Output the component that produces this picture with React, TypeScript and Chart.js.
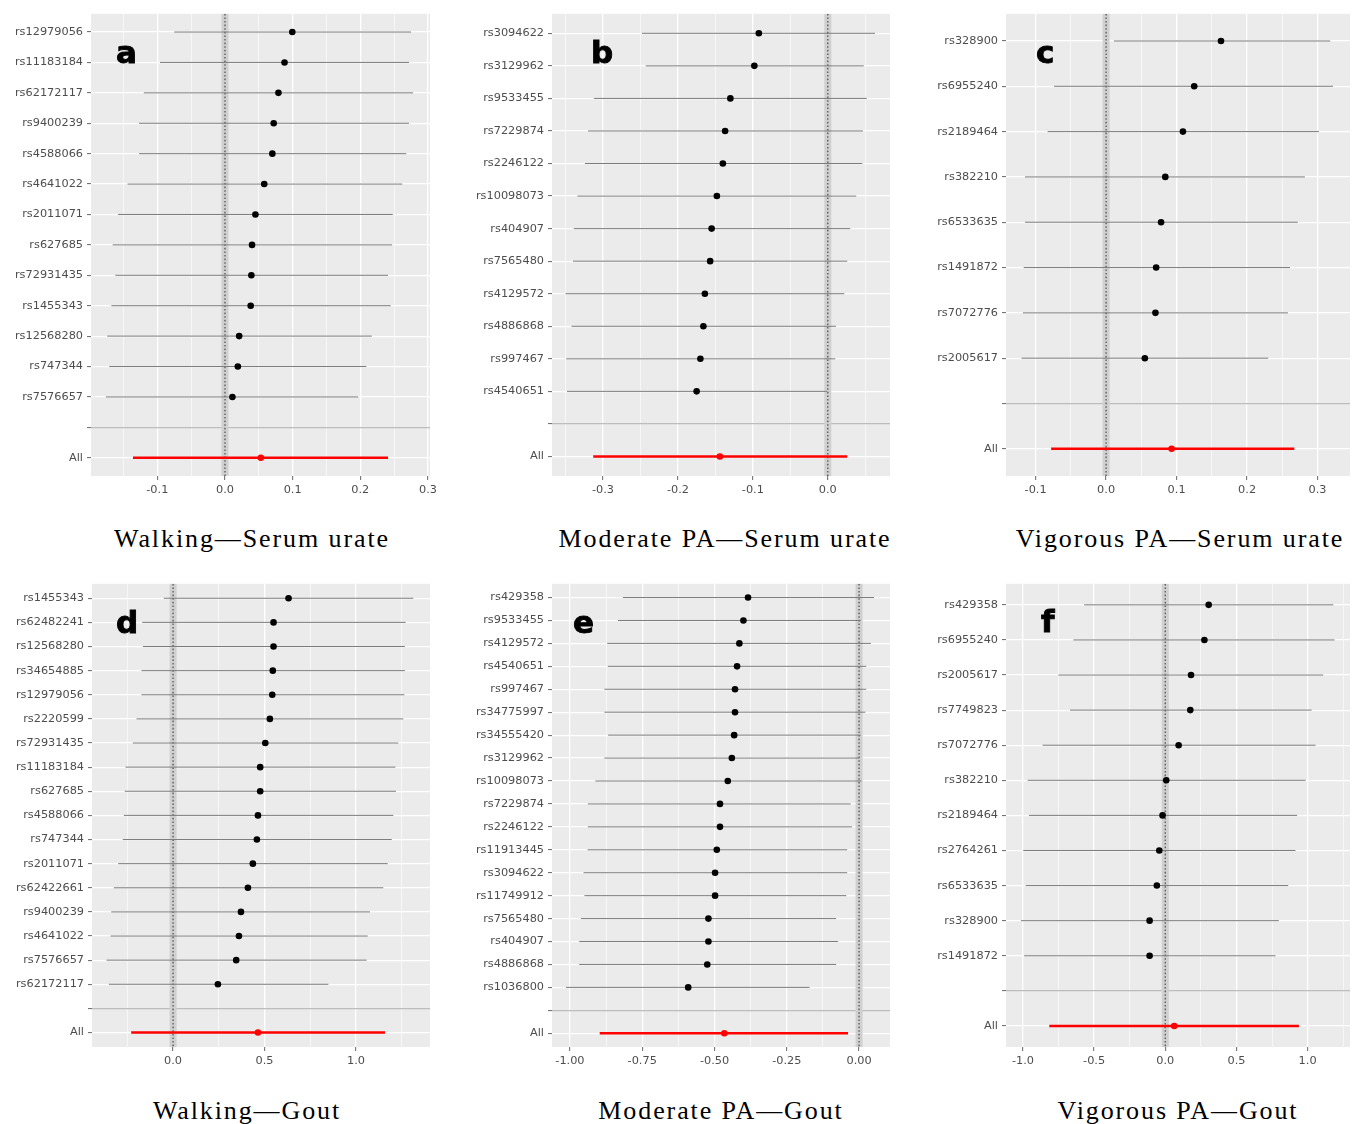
import React, { useEffect, useRef } from 'react';
import { Chart, registerables } from 'chart.js';

Chart.register(...registerables);

// ---------- Data ----------
// Panel a: Walking — Serum urate
const labelsA = ['rs12979056', 'rs11183184', 'rs62172117', 'rs9400239', 'rs4588066', 'rs4641022', 'rs2011071', 'rs627685', 'rs72931435', 'rs1455343', 'rs12568280', 'rs747344', 'rs7576657'];
const estA = [0.0995, 0.088, 0.079, 0.072, 0.070, 0.058, 0.045, 0.040, 0.039, 0.038, 0.021, 0.019, 0.011];
const loA = [-0.075, -0.096, -0.120, -0.127, -0.127, -0.144, -0.158, -0.166, -0.162, -0.168, -0.174, -0.171, -0.176];
const hiA = [0.275, 0.272, 0.278, 0.272, 0.268, 0.262, 0.248, 0.247, 0.241, 0.245, 0.217, 0.209, 0.197];
const allA = [0.053, -0.136, 0.241]; // estimate, lower, upper
const xRangeA = [-0.198, 0.303];

// Panel b: Moderate PA — Serum urate
const labelsB = ['rs3094622', 'rs3129962', 'rs9533455', 'rs7229874', 'rs2246122', 'rs10098073', 'rs404907', 'rs7565480', 'rs4129572', 'rs4886868', 'rs997467', 'rs4540651'];
const estB = [-0.092, -0.098, -0.130, -0.137, -0.140, -0.148, -0.155, -0.157, -0.164, -0.166, -0.170, -0.175];
const loB = [-0.248, -0.243, -0.312, -0.320, -0.324, -0.334, -0.339, -0.340, -0.350, -0.342, -0.349, -0.348];
const hiB = [0.063, 0.048, 0.052, 0.047, 0.046, 0.038, 0.030, 0.026, 0.022, 0.011, 0.010, -0.001];
const allB = [-0.144, -0.313, 0.026];
const xRangeB = [-0.368, 0.083];

// Panel c: Vigorous PA — Serum urate
const labelsC = ['rs328900', 'rs6955240', 'rs2189464', 'rs382210', 'rs6533635', 'rs1491872', 'rs7072776', 'rs2005617'];
const estC = [0.163, 0.125, 0.109, 0.084, 0.078, 0.071, 0.070, 0.055];
const loC = [0.011, -0.074, -0.083, -0.115, -0.115, -0.117, -0.118, -0.120];
const hiC = [0.318, 0.322, 0.302, 0.282, 0.272, 0.261, 0.258, 0.230];
const allC = [0.093, -0.078, 0.267];
const xRangeC = [-0.142, 0.346];

// Panel d: Walking — Gout
const labelsD = ['rs1455343', 'rs62482241', 'rs12568280', 'rs34654885', 'rs12979056', 'rs2220599', 'rs72931435', 'rs11183184', 'rs627685', 'rs4588066', 'rs747344', 'rs2011071', 'rs62422661', 'rs9400239', 'rs4641022', 'rs7576657', 'rs62172117'];
const estD = [0.631, 0.549, 0.549, 0.545, 0.542, 0.529, 0.504, 0.476, 0.476, 0.464, 0.458, 0.436, 0.409, 0.371, 0.360, 0.345, 0.245];
const loD = [-0.051, -0.169, -0.165, -0.173, -0.173, -0.200, -0.220, -0.260, -0.264, -0.269, -0.275, -0.300, -0.324, -0.338, -0.342, -0.364, -0.351];
const hiD = [1.313, 1.271, 1.267, 1.267, 1.264, 1.258, 1.231, 1.215, 1.218, 1.204, 1.195, 1.173, 1.149, 1.076, 1.064, 1.058, 0.849];
const allD = [0.464, -0.229, 1.158];
const xRangeD = [-0.443, 1.404];

// Panel e: Moderate PA — Gout
const labelsE = ['rs429358', 'rs9533455', 'rs4129572', 'rs4540651', 'rs997467', 'rs34775997', 'rs34555420', 'rs3129962', 'rs10098073', 'rs7229874', 'rs2246122', 'rs11913445', 'rs3094622', 'rs11749912', 'rs7565480', 'rs404907', 'rs4886868', 'rs1036800'];
const estE = [-0.384, -0.400, -0.414, -0.422, -0.429, -0.429, -0.432, -0.440, -0.454, -0.481, -0.481, -0.492, -0.498, -0.498, -0.521, -0.521, -0.525, -0.591];
const loE = [-0.817, -0.834, -0.871, -0.869, -0.881, -0.881, -0.868, -0.881, -0.912, -0.938, -0.938, -0.939, -0.953, -0.950, -0.962, -0.968, -0.968, -1.014];
const hiE = [0.052, 0.006, 0.041, 0.025, 0.025, 0.022, 0.006, 0.000, 0.008, -0.029, -0.024, -0.041, -0.041, -0.044, -0.079, -0.073, -0.079, -0.171];
const allE = [-0.466, -0.897, -0.038];
const xRangeE = [-1.062, 0.107];

// Panel f: Vigorous PA — Gout
const labelsF = ['rs429358', 'rs6955240', 'rs2005617', 'rs7749823', 'rs7072776', 'rs382210', 'rs2189464', 'rs2764261', 'rs6533635', 'rs328900', 'rs1491872'];
const estF = [0.305, 0.275, 0.181, 0.176, 0.094, 0.007, -0.019, -0.042, -0.059, -0.110, -0.110];
const loF = [-0.570, -0.646, -0.751, -0.669, -0.862, -0.967, -0.958, -0.998, -0.981, -1.014, -0.991];
const hiF = [1.181, 1.190, 1.110, 1.028, 1.056, 0.986, 0.927, 0.915, 0.864, 0.798, 0.775];
const allF = [0.063, -0.815, 0.939];
const xRangeF = [-1.119, 1.298];

// ---------- Layout / style ----------
type Box = { left: number; top: number; w: number; h: number };
type PanelCfg = {
  letter: string;
  caption: string;
  labels: string[];
  est: number[];
  lo: number[];
  hi: number[];
  all: number[];
  xRange: number[];
  major: number;
  minor: number;
  decimals: number;
  box: Box;
  letterPos: { left: number; top: number };
  captionPos: { cx: number; top: number };
};

const Y_AXIS_W = 90;
const X_AXIS_H = 30;
const PAD_TOP = 10;
const PAD_RIGHT = 24;
const TICK_FONT = { family: '"DejaVu Sans", "Liberation Sans", sans-serif', size: 11.3 };
const TEXT_GREY = '#4D4D4D';

const panels: PanelCfg[] = [
  { letter: 'a', caption: 'Walking\u2014Serum urate', labels: labelsA, est: estA, lo: loA, hi: hiA, all: allA, xRange: xRangeA, major: 0.1, minor: 0.05, decimals: 1,
    box: { left: 91, top: 13, w: 339, h: 463 }, letterPos: { left: 116, top: 37 }, captionPos: { cx: 252, top: 526 } },
  { letter: 'b', caption: 'Moderate PA\u2014Serum urate', labels: labelsB, est: estB, lo: loB, hi: hiB, all: allB, xRange: xRangeB, major: 0.1, minor: 0.05, decimals: 1,
    box: { left: 552, top: 13, w: 338, h: 463 }, letterPos: { left: 591, top: 37 }, captionPos: { cx: 725, top: 526 } },
  { letter: 'c', caption: 'Vigorous PA\u2014Serum urate', labels: labelsC, est: estC, lo: loC, hi: hiC, all: allC, xRange: xRangeC, major: 0.1, minor: 0.05, decimals: 1,
    box: { left: 1006, top: 13, w: 344, h: 463 }, letterPos: { left: 1036, top: 37 }, captionPos: { cx: 1180, top: 526 } },
  { letter: 'd', caption: 'Walking\u2014Gout', labels: labelsD, est: estD, lo: loD, hi: hiD, all: allD, xRange: xRangeD, major: 0.5, minor: 0.25, decimals: 1,
    box: { left: 92, top: 583, w: 338, h: 464 }, letterPos: { left: 116, top: 607 }, captionPos: { cx: 247, top: 1098 } },
  { letter: 'e', caption: 'Moderate PA\u2014Gout', labels: labelsE, est: estE, lo: loE, hi: hiE, all: allE, xRange: xRangeE, major: 0.25, minor: 0.125, decimals: 2,
    box: { left: 552, top: 583, w: 338, h: 464 }, letterPos: { left: 573, top: 607 }, captionPos: { cx: 721, top: 1098 } },
  { letter: 'f', caption: 'Vigorous PA\u2014Gout', labels: labelsF, est: estF, lo: loF, hi: hiF, all: allF, xRange: xRangeF, major: 0.5, minor: 0.25, decimals: 1,
    box: { left: 1006, top: 583, w: 344, h: 464 }, letterPos: { left: 1041, top: 606 }, captionPos: { cx: 1178, top: 1098 } },
];

const panelBg = {
  id: 'panelBg',
  beforeDraw(chart: any) {
    const { ctx, chartArea } = chart;
    if (!chartArea) return;
    ctx.save();
    ctx.fillStyle = '#EBEBEB';
    ctx.fillRect(chartArea.left, chartArea.top, chartArea.right - chartArea.left, chartArea.bottom - chartArea.top);
    ctx.restore();
  },
};

function ForestPanel({ cfg }: { cfg: PanelCfg }) {
  const ref = useRef<HTMLCanvasElement>(null);

  useEffect(() => {
    if (!ref.current) return;
    const cats = [...cfg.labels, '', 'All'];
    const n = cats.length;
    const sepIdx = cfg.labels.length;
    const allIdx = n - 1;
    const yMin = -0.6;
    const yMax = n - 1 + 0.6;
    const isMajor = (v: number) => Math.abs(v / cfg.major - Math.round(v / cfg.major)) < 1e-6;

    const datasets: any[] = [];
    const zeroLine = [{ x: 0, y: yMin }, { x: 0, y: yMax }];
    datasets.push({ type: 'line', data: zeroLine, borderColor: '#D0D0D0', borderWidth: 7, pointRadius: 0, order: 20 });
    datasets.push({ type: 'line', data: zeroLine, borderColor: '#555555', borderWidth: 1.3, borderDash: [1.6, 2], pointRadius: 0, order: 19 });
    cfg.labels.forEach((_, i) => {
      datasets.push({
        type: 'line',
        data: [{ x: cfg.lo[i], y: i }, { x: cfg.hi[i], y: i }],
        borderColor: '#7C7C7C',
        borderWidth: 1,
        pointRadius: 0,
        order: 10,
      });
    });
    datasets.push({
      type: 'line',
      data: [{ x: cfg.all[1], y: allIdx }, { x: cfg.all[2], y: allIdx }],
      borderColor: '#FF0000',
      borderWidth: 2.6,
      pointRadius: 0,
      order: 5,
    });
    datasets.push({
      type: 'scatter',
      data: cfg.est.map((v, i) => ({ x: v, y: i })),
      backgroundColor: '#000000',
      borderWidth: 0,
      pointRadius: 3.3,
      order: 2,
    });
    datasets.push({
      type: 'scatter',
      data: [{ x: cfg.all[0], y: allIdx }],
      backgroundColor: '#FF0000',
      borderWidth: 0,
      pointRadius: 3.3,
      order: 1,
    });

    const chart = new Chart(ref.current, {
      type: 'scatter',
      data: { datasets },
      options: {
        animation: false,
        responsive: false,
        events: [],
        layout: { padding: { top: PAD_TOP, right: PAD_RIGHT, left: 0, bottom: 0 } },
        plugins: { legend: { display: false }, tooltip: { enabled: false }, title: { display: false } },
        scales: {
          x: {
            type: 'linear',
            min: cfg.xRange[0],
            max: cfg.xRange[1],
            bounds: 'data',
            afterBuildTicks: (scale: any) => {
              const start = Math.ceil(cfg.xRange[0] / cfg.minor - 1e-9);
              const end = Math.floor(cfg.xRange[1] / cfg.minor + 1e-9);
              const ticks = [];
              for (let k = start; k <= end; k++) ticks.push({ value: +(k * cfg.minor).toFixed(6) });
              scale.ticks = ticks;
            },
            afterFit: (scale: any) => {
              scale.height = X_AXIS_H;
            },
            ticks: {
              autoSkip: false,
              maxRotation: 0,
              minRotation: 0,
              color: TEXT_GREY,
              font: TICK_FONT,
              padding: 3,
              callback: (v: any) => (isMajor(Number(v)) ? Number(v).toFixed(cfg.decimals) : ''),
            },
            grid: {
              color: '#FFFFFF',
              lineWidth: (ctx: any) => (ctx.tick && isMajor(ctx.tick.value) ? 1.3 : 0.6),
              tickLength: 4,
              tickColor: (ctx: any) => (ctx.tick && isMajor(ctx.tick.value) ? '#666666' : 'rgba(0,0,0,0)'),
              tickWidth: 1,
            },
            border: { display: false },
          },
          y: {
            type: 'linear',
            reverse: true,
            min: yMin,
            max: yMax,
            bounds: 'data',
            offset: false,
            afterBuildTicks: (scale: any) => {
              scale.ticks = cats.map((_, i) => ({ value: i }));
            },
            afterFit: (scale: any) => {
              scale.width = Y_AXIS_W;
            },
            ticks: {
              autoSkip: false,
              color: TEXT_GREY,
              font: TICK_FONT,
              padding: 4,
              callback: (v: any) => cats[Math.round(Number(v))] ?? '',
            },
            grid: {
              offset: false,
              color: (ctx: any) => (ctx.tick && Math.round(ctx.tick.value) === sepIdx ? '#BDBDBD' : '#FFFFFF'),
              lineWidth: 1.2,
              tickLength: 4,
              tickColor: '#666666',
              tickWidth: 1,
            },
            border: { display: false },
          },
        },
      } as any,
      plugins: [panelBg],
    } as any);

    return () => chart.destroy();
  }, [cfg]);

  const { box } = cfg;
  const cw = Y_AXIS_W + box.w + PAD_RIGHT;
  const ch = PAD_TOP + box.h + X_AXIS_H;

  return (
    <>
      <canvas
        ref={ref}
        width={cw}
        height={ch}
        style={{ position: 'absolute', left: box.left - Y_AXIS_W, top: box.top - PAD_TOP, width: cw, height: ch }}
      />
      <div
        style={{
          position: 'absolute',
          left: cfg.letterPos.left,
          top: cfg.letterPos.top,
          fontFamily: '"DejaVu Sans", sans-serif',
          fontWeight: 'bold',
          fontSize: 31,
          lineHeight: '31px',
          color: '#000',
          WebkitTextStroke: '0.9px #000',
        }}
      >
        {cfg.letter}
      </div>
      <div
        style={{
          position: 'absolute',
          left: cfg.captionPos.cx,
          top: cfg.captionPos.top,
          transform: 'translateX(-50%)',
          fontFamily: '"Liberation Serif", "DejaVu Serif", serif',
          fontSize: 26,
          lineHeight: '26px',
          letterSpacing: '1.9px',
          whiteSpace: 'nowrap',
          color: '#000',
        }}
      >
        {cfg.caption}
      </div>
    </>
  );
}

export default function App() {
  return (
    <div
      style={{
        position: 'absolute',
        left: 0,
        top: 0,
        width: 1365,
        height: 1124,
        background: '#FFFFFF',
        overflow: 'hidden',
      }}
    >
      {panels.map((p) => (
        <ForestPanel key={p.letter} cfg={p} />
      ))}
    </div>
  );
}
